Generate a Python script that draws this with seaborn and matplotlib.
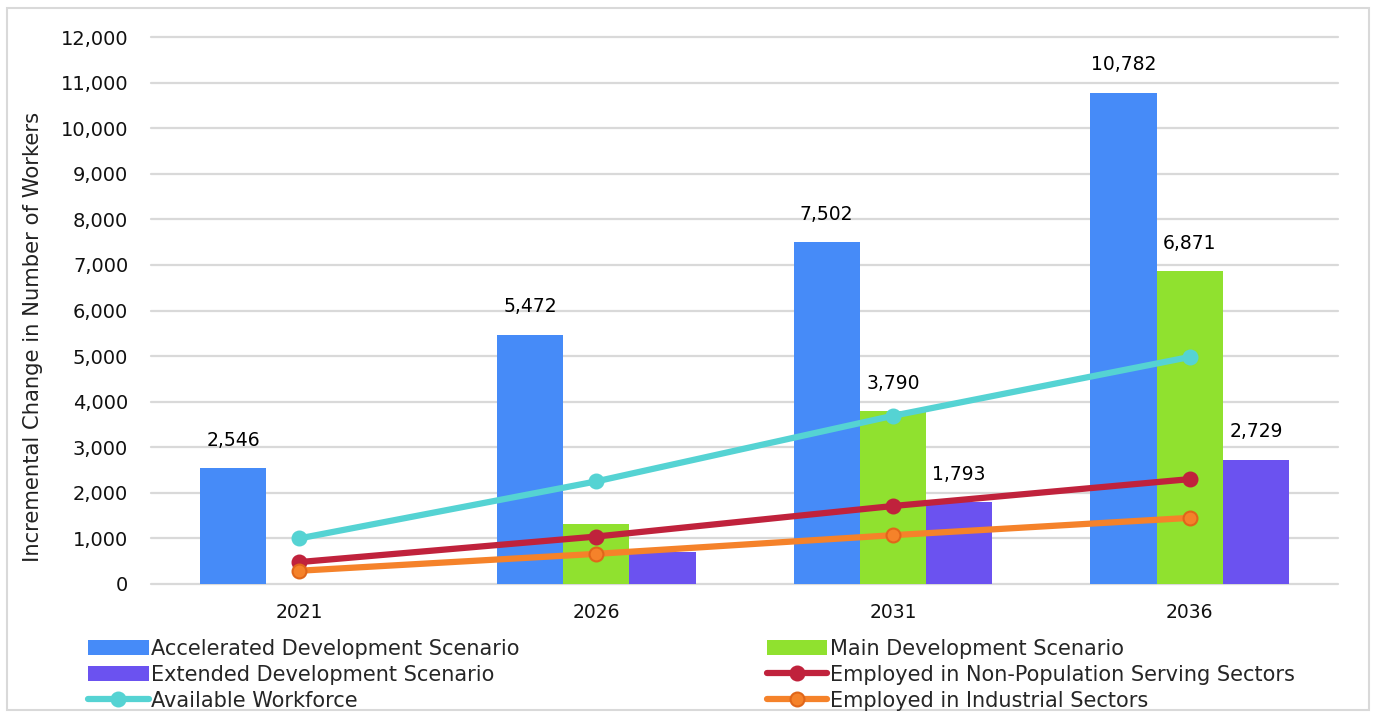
import numpy as np
import pandas as pd
import matplotlib
matplotlib.use("Agg")
import matplotlib.pyplot as plt
import seaborn as sns
from matplotlib.patches import Rectangle
from matplotlib.ticker import FuncFormatter

# ---- data ----
years = ["2021", "2026", "2031", "2036"]
scenarios = ["Accelerated Development Scenario",
             "Main Development Scenario",
             "Extended Development Scenario"]
accelerated = [2546, 5472, 7502, 10782]
main_dev = [0, 1320, 3790, 6871]
extended = [0, 700, 1793, 2729]
# which bars carry a value label
show_label = {"Accelerated Development Scenario": [True, True, True, True],
              "Main Development Scenario": [False, False, True, True],
              "Extended Development Scenario": [False, False, True, True]}

line_names = ["Available Workforce",
              "Employed in Non-Population Serving Sectors",
              "Employed in Industrial Sectors"]
available = [1000, 2250, 3690, 4980]
non_pop = [480, 1040, 1710, 2300]
industrial = [290, 660, 1070, 1450]

bar_colors = ["#468BF8", "#90E12F", "#6B52F0"]
line_colors = ["#55D3D3", "#C0223C", "#F5822A"]
marker_edges = ["#55D3D3", "#C0223C", "#E0661A"]

bars = pd.DataFrame({
    "year": years * 3,
    "scenario": np.repeat(scenarios, len(years)),
    "workers": accelerated + main_dev + extended,
})
lines = pd.DataFrame({
    "year": years * 3,
    "series": np.repeat(line_names, len(years)),
    "workers": available + non_pop + industrial,
})

sns.set_style("white")
plt.rcParams["font.family"] = ["DejaVu Sans"]

fig = plt.figure(figsize=(13.77, 7.13), dpi=100)
ax = fig.add_axes([0.1097, 0.181, 0.862, 0.767])

sns.barplot(data=bars, x="year", y="workers", hue="scenario",
            hue_order=scenarios, palette=bar_colors, width=0.67,
            linewidth=0, saturation=1, ax=ax, zorder=2)

for name, col, edge in zip(line_names, line_colors, marker_edges):
    sub = lines[lines["series"] == name]
    sns.pointplot(data=sub, x="year", y="workers", color=col,
                  markers="o", markersize=10, linewidth=4.5,
                  markeredgecolor=edge, markeredgewidth=1.5,
                  label=name, ax=ax, zorder=3)

# value labels
for cont, name in zip(ax.containers[:3], scenarios):
    for rect, val, show in zip(cont, bars[bars["scenario"] == name]["workers"], show_label[name]):
        if show:
            ax.text(rect.get_x() + rect.get_width() / 2, val + 400,
                    f"{val:,}", ha="center", va="bottom", fontsize=13.5,
                    color="#000000")

ax.set_ylim(0, 12000)
ax.set_xlim(-0.5, 3.5)
ax.set_yticks(np.arange(0, 12001, 1000))
ax.yaxis.set_major_formatter(FuncFormatter(lambda v, p: f"{int(v):,}"))
ax.grid(axis="y", color="#d9d9d9", linewidth=1.6, zorder=0)
for gl in ax.get_ygridlines():
    gl.set_clip_on(False)
ax.set_axisbelow(True)
for s in ax.spines.values():
    s.set_visible(False)
ax.tick_params(axis="both", length=0, colors="#111111")
ax.tick_params(axis="x", labelsize=13.5, pad=14)
ax.tick_params(axis="y", labelsize=14, pad=16.5)
ax.set_xlabel("")
ax.set_ylabel("Incremental Change in Number of Workers", fontsize=15.2,
              color="#222222")
ax.yaxis.set_label_coords(-0.091, 0.452)

handles, labels = ax.get_legend_handles_labels()
if ax.get_legend():
    ax.get_legend().remove()
hmap = dict(zip(labels, handles))
order = [scenarios[0], scenarios[2], line_names[0],
         scenarios[1], line_names[1], line_names[2]]
fig.legend([hmap[k] for k in order], order, ncol=2, loc="upper left",
           bbox_to_anchor=(0.064, 0.104), frameon=False, fontsize=15,
           handlelength=2.9, handleheight=0.75, handletextpad=0.1,
           columnspacing=11.9, labelspacing=0.28, borderaxespad=0,
           borderpad=0)

fig.patches.append(Rectangle((0.005, 0.004), 0.989, 0.985, transform=fig.transFigure,
                             fill=False, edgecolor="#d9d9d9", linewidth=1.5))

fig.savefig("out.png", dpi=100)
